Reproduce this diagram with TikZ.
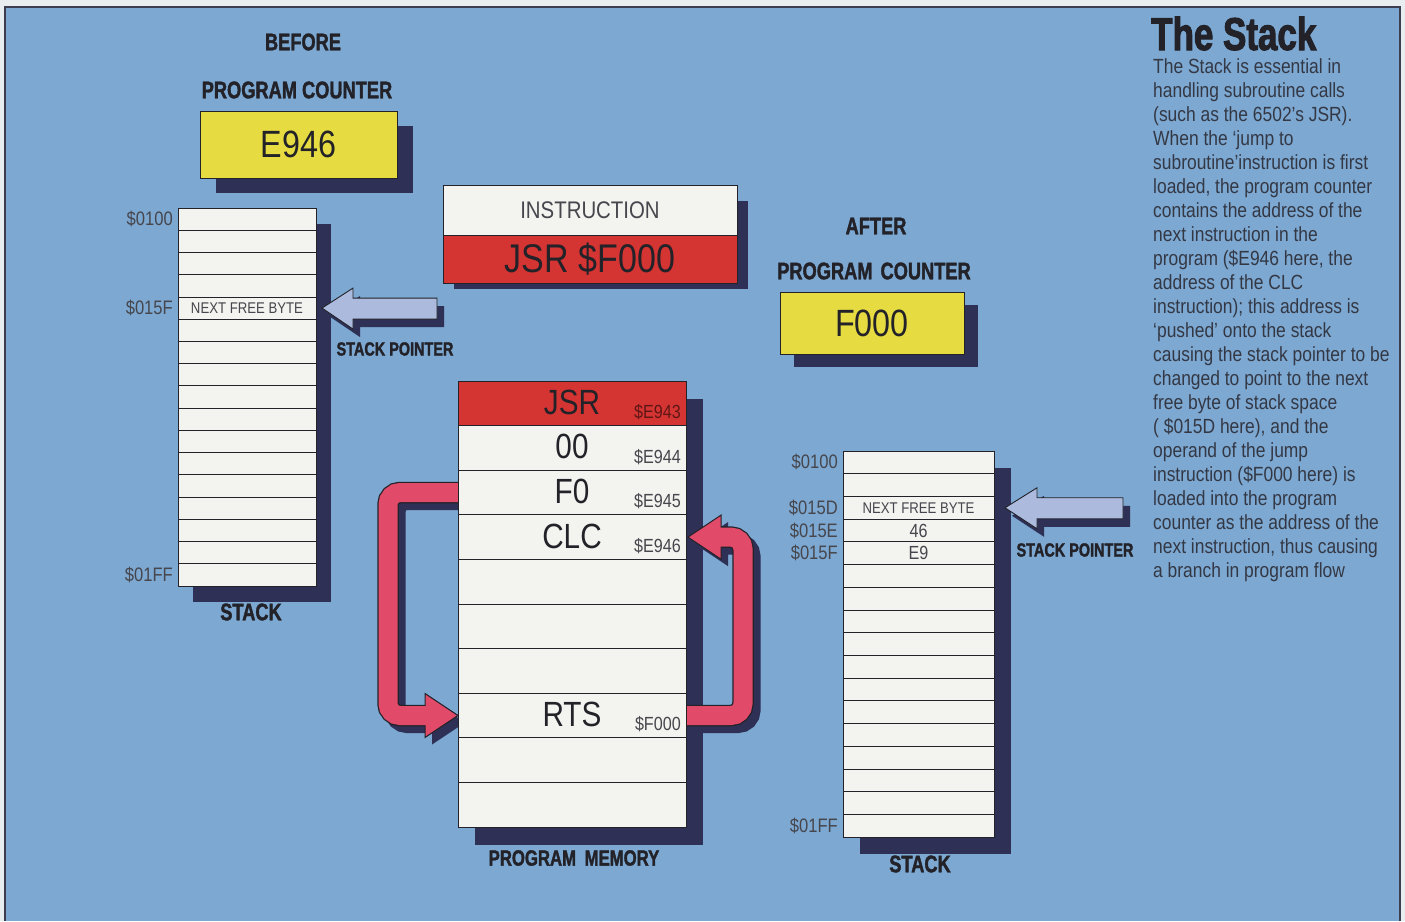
\documentclass[tikz,border=0pt]{standalone}
\usepackage{fontspec}
\setmainfont[FakeStretch=0.85]{Liberation Sans}
\newfontfamily\hdfont[FakeStretch=0.76,FakeBold=1.6]{Liberation Sans Bold}
\newfontfamily\ttlfont[FakeStretch=0.76,FakeBold=2.2]{Liberation Sans Bold}
\usetikzlibrary{calc}
\pgfdeclarelayer{bg}
\pgfdeclarelayer{shd}
\pgfdeclarelayer{arr}
\pgfsetlayers{bg,shd,arr,main}
\definecolor{bgblue}{RGB}{124,168,210}
\definecolor{outerc}{RGB}{232,238,240}
\definecolor{bordc}{RGB}{60,62,80}
\definecolor{shadowc}{RGB}{46,48,86}
\definecolor{pcyellow}{RGB}{230,220,66}
\definecolor{instred}{RGB}{212,52,50}
\definecolor{cellc}{RGB}{243,243,240}
\definecolor{pinkc}{RGB}{226,74,106}
\definecolor{ptrc}{RGB}{172,186,222}
\definecolor{ink}{RGB}{34,34,40}
\definecolor{gink}{RGB}{70,70,76}
\definecolor{paraink}{RGB}{52,56,68}
\begin{document}
\begin{tikzpicture}[x=1pt,y=-1pt,
  hdlbl/.style={font=\hdfont\fontsize{24}{26}\selectfont, text=ink, inner sep=0pt},
  smallhd/.style={font=\hdfont\fontsize{19}{21}\selectfont, text=ink, inner sep=0pt},
  stackcell/.style={draw=ink, line width=0.9pt, fill=cellc, anchor=north west, inner sep=0pt, outer sep=0pt},
  addrlbl/.style={font=\fontsize{19.5}{21}\selectfont, text=gink, inner sep=0pt},
  celltxt/.style={font=\fontsize{15.5}{17}\selectfont, text=gink, inner sep=0pt},
  valtxt/.style={font=\fontsize{19}{21}\selectfont, text=gink, inner sep=0pt},
  pcbox/.style={draw=ink, line width=1pt, fill=pcyellow, anchor=north west, inner sep=0pt, outer sep=0pt, font=\fontsize{38}{40}\selectfont, text=ink},
  instbox/.style={draw=ink, line width=1pt, anchor=north west, inner sep=0pt, outer sep=0pt, minimum width=294pt},
  memtxt/.style={font=\fontsize{35}{37}\selectfont, text=ink, inner sep=0pt},
  memaddr/.style={font=\fontsize{19}{21}\selectfont, text=gink, inner sep=0pt, anchor=base east},
  ptrarrow/.style={fill=ptrc, draw=ink, line width=0.9pt, line join=miter},
  outlineband/.style={line width=21.5pt, draw=ink, rounded corners=12pt},
  pinkband/.style={line width=19pt, draw=pinkc, rounded corners=12pt},
  shadowband/.style={line width=21pt, draw=shadowc, rounded corners=12pt},
  pinkhead/.style={fill=pinkc, draw=ink, line width=1pt, line join=miter}
]
\useasboundingbox (0,0) rectangle (1405,921);
\begin{pgfonlayer}{bg}
  \fill[outerc] (0,0) rectangle (1405,921);
  \fill[bgblue] (5,7) rectangle (1400,921);
  \draw[bordc, line width=1.6pt] (5,921) -- (5,7) -- (1400,7) -- (1400,921);
\end{pgfonlayer}

% ---------------- BEFORE ----------------
\node[hdlbl] (before) at (303,42) {BEFORE};
\node[hdlbl] (pcA) at (297,90) {PROGRAM COUNTER};
\node[pcbox, minimum width=197pt, minimum height=67pt] (pcBefore) at (200,111) {E946};

\foreach \i in {1,...,17}{
  \node[stackcell, minimum width=138pt, minimum height=22.24pt] (sL\i) at (178,{208+(\i-1)*22.24}) {};
}
\node[celltxt] (nfbL) at (sL5) {NEXT FREE BYTE};
\node[addrlbl, anchor=east] (aL1) at ([xshift=-5pt]sL1.west) {\$0100};
\node[addrlbl, anchor=east] (aL5) at ([xshift=-5pt]sL5.west) {\$015F};
\node[addrlbl, anchor=east] (aL17) at ([xshift=-5pt]sL17.west) {\$01FF};
\node[hdlbl] (stackL) at (251,612) {STACK};
\coordinate (tipL) at ([xshift=6pt]sL5.east);
\node[smallhd] (spL) at (395,349) {STACK POINTER};

% ---------------- INSTRUCTION ----------------
\node[instbox, fill=cellc, minimum height=50pt, font=\fontsize{24}{26}\selectfont, text=gink] (instT) at (443,185) {INSTRUCTION};
\node[instbox, fill=instred, minimum height=48pt, font=\fontsize{40}{42}\selectfont, text=ink] (instB) at (443,235) {JSR \$F000};

% ---------------- PROGRAM MEMORY ----------------
\node[stackcell, fill=instred, minimum width=228pt, minimum height=44.6pt] (m1) at (458,381) {};
\foreach \i in {2,...,10}{
  \node[stackcell, minimum width=228pt, minimum height=44.6pt] (m\i) at (458,{381+(\i-1)*44.6}) {};
}
\node[memtxt] (t1) at ([yshift=1pt]m1) {JSR};
\node[memtxt] (t2) at ([yshift=1pt]m2) {00};
\node[memtxt] (t3) at ([yshift=1pt]m3) {F0};
\node[memtxt] (t4) at ([yshift=1pt]m4) {CLC};
\node[memtxt] (t8) at ([yshift=1pt]m8) {RTS};
\node[memaddr, text=instred!45!black] (a1) at ([shift={(-5,-7)}]m1.south east) {\$E943};
\node[memaddr] (a2) at ([shift={(-5,-7)}]m2.south east) {\$E944};
\node[memaddr] (a3) at ([shift={(-5,-7)}]m3.south east) {\$E945};
\node[memaddr] (a4) at ([shift={(-5,-7)}]m4.south east) {\$E946};
\node[memaddr] (a8) at ([shift={(-5,-7)}]m8.south east) {\$F000};
\node[hdlbl, font=\hdfont\fontsize{22}{24}\selectfont] (pmem) at (574,858) {PROGRAM\hspace{4pt} MEMORY};

% ---------------- AFTER ----------------
\node[hdlbl] (after) at (876,226) {AFTER};
\node[hdlbl] (pcB) at (874,271) {PROGRAM\hspace{3pt} COUNTER};
\node[pcbox, minimum width=184pt, minimum height=62pt] (pcAfter) at (780,292) {F000};

\foreach \i in {1,...,17}{
  \node[stackcell, minimum width=151pt, minimum height=22.71pt] (sR\i) at (843,{451+(\i-1)*22.71}) {};
}
\node[celltxt] (nfbR) at (sR3) {NEXT FREE BYTE};
\node[valtxt] (v46) at (sR4) {46};
\node[valtxt] (vE9) at (sR5) {E9};
\node[addrlbl, anchor=east] (aR1) at ([xshift=-5pt]sR1.west) {\$0100};
\node[addrlbl, anchor=east] (aR3) at ([xshift=-5pt]sR3.west) {\$015D};
\node[addrlbl, anchor=east] (aR4) at ([xshift=-5pt]sR4.west) {\$015E};
\node[addrlbl, anchor=east] (aR5) at ([xshift=-5pt]sR5.west) {\$015F};
\node[addrlbl, anchor=east] (aR17) at ([xshift=-5pt]sR17.west) {\$01FF};
\node[hdlbl] (stackR) at (920,864) {STACK};
\coordinate (tipR) at ([xshift=11pt]sR3.east);
\node[smallhd] (spR) at (1075,550) {STACK POINTER};

% ---------------- TEXT ----------------
\node[anchor=base west, font=\ttlfont\fontsize{46}{48}\selectfont, text=ink, inner sep=0pt] (title) at (1151,50) {The Stack};
\node[anchor=north west, align=left, inner sep=0pt, font=\fontsize{20.5}{24}\selectfont, text=paraink] (para) at (1153,58) {%
The Stack is essential in\\
handling subroutine calls\\
(such as the 6502’s JSR).\\
When the ‘jump to\\
subroutine’instruction is first\\
loaded, the program counter\\
contains the address of the\\
next instruction in the\\
program (\$E946 here, the\\
address of the CLC\\
instruction); this address is\\
‘pushed’ onto the stack\\
causing the stack pointer to be\\
changed to point to the next\\
free byte of stack space\\
( \$015D here), and the\\
operand of the jump\\
instruction (\$F000 here) is\\
loaded into the program\\
counter as the address of the\\
next instruction, thus causing\\
a branch in program flow};

% ---------------- SHADOWS ----------------
\begin{pgfonlayer}{shd}
  \fill[shadowc] ([shift={(16,15)}]pcBefore.north west) rectangle ([shift={(16,15)}]pcBefore.south east);
  \fill[shadowc] ([shift={(14,13)}]pcAfter.north west) rectangle ([shift={(14,13)}]pcAfter.south east);
  \fill[shadowc] ([shift={(15,16)}]sL1.north west) rectangle ([shift={(15,16)}]sL17.south east);
  \fill[shadowc] ([shift={(17,17)}]sR1.north west) rectangle ([shift={(17,17)}]sR17.south east);
  \fill[shadowc] ([shift={(17,18)}]m1.north west) rectangle ([shift={(17,18)}]m10.south east);
  \fill[shadowc] ([shift={(11,16)}]instT.north west) rectangle ([shift={(11,6)}]instB.south east);
  % pointer shadows
  \fill[shadowc] ([shift={(7,8)}]tipL) -- ++(31,-20) -- ++(0,10) -- ++(84,0) -- ++(0,21) -- ++(-84,0) -- ++(0,10) -- cycle;
  \fill[shadowc] ([shift={(7,8)}]tipR) -- ++(32,-20) -- ++(0,10) -- ++(86,0) -- ++(0,21) -- ++(-86,0) -- ++(0,10) -- cycle;
\end{pgfonlayer}

% ---------------- ARROWS ----------------
\begin{pgfonlayer}{arr}
  % stack pointers
  \draw[ptrarrow] (tipL) -- ++(31,-20) -- ++(0,10) -- ++(84,0) -- ++(0,21) -- ++(-84,0) -- ++(0,10) -- cycle;
  \draw[ptrarrow] (tipR) -- ++(32,-20) -- ++(0,10) -- ++(86,0) -- ++(0,21) -- ++(-86,0) -- ++(0,10) -- cycle;
  % left jump arrow: shadow
  \draw[shadowband] ([shift={(7,7)}]m3.west) -- ++(-70,0) |- ([shift={(-30,7)}]m8.west);
  \fill[shadowc] ([shift={(7,7)}]m8.west) -- ++(-33,-22) -- ++(0,44) -- cycle;
  % right return arrow: shadow
  \draw[shadowband] ([shift={(7,7)}]m8.east) -- ++(57,0) |- ([shift={(37,7)}]m4.east);
  \fill[shadowc] ([shift={(9,7)}]m4.east) -- ++(33,-22) -- ++(0,44) -- cycle;
  % left jump arrow
  \draw[outlineband] (m3.west) -- ++(-70,0) |- ([xshift=-31pt]m8.west);
  \draw[pinkhead] (m8.west) -- ++(-33,-22) -- ++(0,44) -- cycle;
  \draw[pinkband] (m3.west) -- ++(-70,0) |- ([xshift=-30pt]m8.west);
  % right return arrow
  \draw[outlineband] (m8.east) -- ++(57,0) |- ([xshift=33pt]m4.east);
  \draw[pinkhead] ([xshift=2pt]m4.east) -- ++(33,-22) -- ++(0,44) -- cycle;
  \draw[pinkband] (m8.east) -- ++(57,0) |- ([xshift=32pt]m4.east);
\end{pgfonlayer}
\end{tikzpicture}
\end{document}
